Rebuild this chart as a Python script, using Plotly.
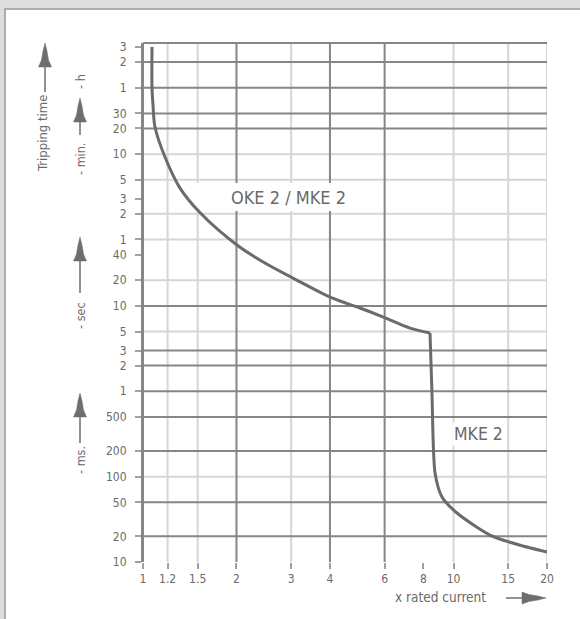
import math
import plotly.graph_objects as go

# ---------------- data ----------------
# thermal (overload) part of the tripping curve
thermal_current = [1.069, 1.069, 1.077, 1.093, 1.177, 1.316, 1.525, 2.007, 2.47, 3.04, 4.06,
                   5.0, 5.94, 7.24, 8.40]
thermal_time_s = [10800, 3600, 2260, 1247, 555, 240, 124, 51.7, 31.8, 21.2, 12.4,
                  9.45, 7.41, 5.5, 4.82]
# magnetic (short-circuit) part, MKE 2
magnetic_current = [8.40, 8.52, 8.72, 9.18, 10.26, 13.1, 16.3, 20.0]
magnetic_time_s = [4.82, 1.0, 0.110, 0.0577, 0.0375, 0.0207, 0.0158, 0.0131]

x_ticks = [1, 1.2, 1.5, 2, 3, 4, 6, 8, 10, 15, 20]
x_tick_text = ["1", "1.2", "1.5", "2", "3", "4", "6", "8", "10", "15", "20"]
x_grid_dark = [1, 2, 4, 6]
x_grid_light = [1.2, 1.5, 3, 10, 15, 20]

y_ticks = [10800, 7200, 3600, 1800, 1200, 600, 300, 180, 120, 60, 40, 20, 10, 5, 3, 2, 1,
           0.5, 0.2, 0.1, 0.05, 0.02, 0.01]
y_tick_text = ["3", "2", "1", "30", "20", "10", "5", "3", "2", "1", "40", "20", "10", "5",
               "3", "2", "1", "500", "200", "100", "50", "20", "10"]
y_grid_dark = [7200, 3600, 1800, 1200, 10, 3, 2, 1, 0.5, 0.2, 0.05, 0.02]
y_grid_light = [600, 300, 120, 60, 20, 5, 0.1]

# ---------------- layout geometry ----------------
W, H = 580, 619
ML, MR, MT, MB = 143, 33, 43, 57
PW, PH = W - ML - MR, H - MT - MB

def px(xp):
    return (xp - ML) / PW

def py(yp):
    return (H - MB - yp) / PH

DARK = "#85858a"
LIGHT = "#d6d6d6"
TXT = "#6a6a6a"
CURVE = "#6a6a70"
FONT = "Liberation Sans Narrow, DejaVu Sans Condensed, Roboto Condensed, Liberation Sans, sans-serif"

shapes = []
# white panel with border
shapes.append(dict(type="rect", xref="paper", yref="paper", x0=px(5), x1=px(590),
                   y0=py(9), y1=py(630), fillcolor="white",
                   line=dict(color="#9a9a9a", width=1.5), layer="below"))

for v in x_grid_light:
    shapes.append(dict(type="line", xref="x", yref="y domain", x0=v, x1=v,
                       y0=0, y1=1, line=dict(color=LIGHT, width=2), layer="below"))
for v in y_grid_light:
    shapes.append(dict(type="line", xref="x domain", yref="y", x0=0, x1=1,
                       y0=v, y1=v, line=dict(color=LIGHT, width=2), layer="below"))
for v in x_grid_dark:
    shapes.append(dict(type="line", xref="x", yref="y domain", x0=v, x1=v,
                       y0=0, y1=1, line=dict(color=DARK, width=2), layer="below"))
for v in y_grid_dark:
    shapes.append(dict(type="line", xref="x domain", yref="y", x0=0, x1=1,
                       y0=v, y1=v, line=dict(color=DARK, width=2), layer="below"))
# top frame line
shapes.append(dict(type="line", xref="x domain", yref="y domain", x0=0, x1=1, y0=1, y1=1,
                   line=dict(color=DARK, width=2), layer="below"))

# white label box (under the curve)
shapes.append(dict(type="rect", xref="paper", yref="paper", x0=px(194), x1=px(383),
                   y0=py(183), y1=py(211), fillcolor="white", line=dict(width=0), layer="below"))


def up_arrow(x, ytip, ytail):
    p = (f"M{px(x)},{py(ytip)} L{px(x-2)},{py(ytip+8)} L{px(x-3.5)},{py(ytip+17)} "
         f"L{px(x-6.5)},{py(ytip+24)} L{px(x+6.5)},{py(ytip+24)} L{px(x+3.5)},{py(ytip+17)} "
         f"L{px(x+2)},{py(ytip+8)} Z")
    shapes.append(dict(type="path", xref="paper", yref="paper", path=p,
                       fillcolor="#6e6e72", line=dict(color="#6e6e72", width=0.5)))
    shapes.append(dict(type="line", xref="paper", yref="paper", x0=px(x), x1=px(x),
                       y0=py(ytip + 20), y1=py(ytail), line=dict(color="#6e6e72", width=1.5)))


def right_arrow(y, xtail, xtip):
    p = (f"M{px(xtip)},{py(y)} L{px(xtip-8)},{py(y-2)} L{px(xtip-17)},{py(y-3.5)} "
         f"L{px(xtip-24)},{py(y-6)} L{px(xtip-24)},{py(y+6)} L{px(xtip-17)},{py(y+3.5)} "
         f"L{px(xtip-8)},{py(y+2)} Z")
    shapes.append(dict(type="path", xref="paper", yref="paper", path=p,
                       fillcolor="#6e6e72", line=dict(color="#6e6e72", width=0.5)))
    shapes.append(dict(type="line", xref="paper", yref="paper", x0=px(xtail), x1=px(xtip - 20),
                       y0=py(y), y1=py(y), line=dict(color="#6e6e72", width=1.5)))


up_arrow(45, 43, 92)
up_arrow(80, 98, 135)
up_arrow(80, 237, 293)
up_arrow(80, 393, 443)
right_arrow(598, 506, 546)

annotations = []

def label(text, x, y, size=12.5, angle=0, bg=None):
    d = dict(text=text, xref="paper", yref="paper", x=px(x), y=py(y), showarrow=False,
             textangle=angle, font=dict(family=FONT, size=size, color=TXT),
             xanchor="center", yanchor="middle")
    if bg:
        d["bgcolor"] = bg
        d["borderpad"] = 1
    annotations.append(d)

label("Tripping time", 42, 134, 13, -90)
label("- h", 80, 82, 12.5, -90)
label("- min.", 80, 159, 12.5, -90)
label("- sec", 80, 316, 12.5, -90)
label("- ms.", 80, 460, 12.5, -90)
label("x rated current", 440, 597, 13.5)
label("OKE 2 / MKE 2", 288, 197, 18)
label("MKE 2", 478, 434, 17.5, 0, "white")

fig = go.Figure()
fig.add_trace(go.Scatter(x=thermal_current, y=thermal_time_s, mode="lines",
                         line=dict(color=CURVE, width=3, shape="spline", smoothing=0.9),
                         hoverinfo="skip", showlegend=False))
fig.add_trace(go.Scatter(x=magnetic_current, y=magnetic_time_s, mode="lines",
                         line=dict(color=CURVE, width=3, shape="spline", smoothing=0.7),
                         hoverinfo="skip", showlegend=False))

fig.update_layout(
    width=W, height=H,
    margin=dict(l=ML, r=MR, t=MT, b=MB, autoexpand=False),
    paper_bgcolor="#dedede", plot_bgcolor="white",
    shapes=shapes, annotations=annotations, showlegend=False,
    xaxis=dict(type="log", range=[0, math.log10(20)], tickvals=x_ticks, ticktext=x_tick_text,
               showgrid=False, zeroline=False, showline=False, ticks="outside", ticklen=6,
               tickcolor="#a0a0a0", tickwidth=1.5, automargin=False,
               tickfont=dict(family=FONT, size=12, color=TXT)),
    yaxis=dict(type="log", range=[-2, 4.08], tickvals=y_ticks, ticktext=y_tick_text,
               showgrid=False, zeroline=False, showline=True, linecolor=DARK, linewidth=2,
               ticks="outside", ticklen=6, tickcolor="#a0a0a0", tickwidth=1.5,
               ticklabelstandoff=6, automargin=False,
               tickfont=dict(family=FONT, size=12, color=TXT)),
)

fig.write_html("out.html", config={"displayModeBar": False},
               post_script="document.body.style.margin='0px';")
